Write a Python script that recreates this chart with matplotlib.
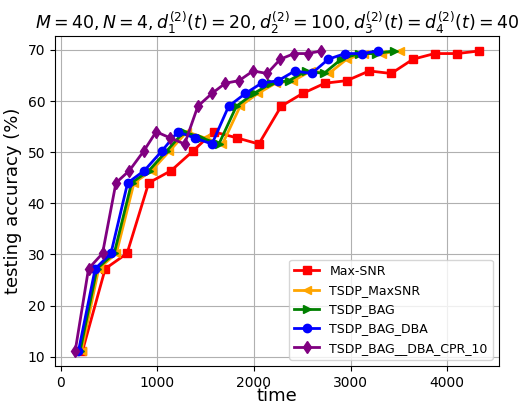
import matplotlib
matplotlib.use("Agg")
import matplotlib.pyplot as plt

acc = [11.1, 27.2, 30.2, 44.0, 46.4, 50.2, 54.0, 52.8, 51.6, 59.0,
       61.5, 63.5, 64.0, 65.9, 65.4, 68.2, 69.3, 69.3, 69.8]

t_maxsnr = [224, 460, 686, 910, 1143, 1367, 1582, 1824, 2050, 2282,
            2504, 2735, 2961, 3193, 3421, 3647, 3871, 4104, 4328]
t_tsdp_maxsnr = [215, 392, 575, 758, 941, 1124, 1306, 1490, 1674, 1857,
                 2041, 2225, 2408, 2592, 2776, 2960, 3143, 3327, 3511]
t_tsdp_bag = [200, 374, 553, 733, 913, 1094, 1275, 1456, 1637, 1818,
              1999, 2180, 2361, 2542, 2723, 2904, 3085, 3266, 3446]
t_tsdp_bag_dba = [183, 356, 519, 692, 865, 1045, 1211, 1385, 1565, 1738,
                  1912, 2078, 2250, 2424, 2597, 2770, 2943, 3117, 3283]
t_tsdp_cpr = [149, 287, 432, 571, 710, 858, 987, 1132, 1282, 1419,
              1565, 1704, 1845, 1991, 2136, 2273, 2416, 2556, 2694]

labels = ["Max-SNR", "TSDP_MaxSNR", "TSDP_BAG", "TSDP_BAG_DBA", "TSDP_BAG__DBA_CPR_10"]

fig = plt.figure(figsize=(5.2, 4.05), dpi=100)
ax = fig.add_axes([0.1058, 0.0963, 0.8538, 0.8148])

series = [
    (t_maxsnr, acc, "red", "s", labels[0]),
    (t_tsdp_maxsnr, acc, "orange", "<", labels[1]),
    (t_tsdp_bag, acc, "green", ">", labels[2]),
    (t_tsdp_bag_dba, acc, "blue", "o", labels[3]),
    (t_tsdp_cpr, acc, "purple", "d", labels[4]),
]
for x, y, c, m, lab in series:
    ax.plot(x, y, color=c, marker=m, markersize=6, linewidth=2, label=lab)

ax.grid(True)
ax.set_xticks([0, 1000, 2000, 3000, 4000])
ax.set_yticks([10, 20, 30, 40, 50, 60, 70])
ax.tick_params(labelsize=10)
ax.set_xlabel("time", fontsize=13, labelpad=-2)
ax.set_ylabel("testing accuracy (%)", fontsize=13)
ax.set_title(r"$M=40,N=4,d_1^{(2)}(t)=20,d_2^{(2)}=100,d_3^{(2)}(t)=d_4^{(2)}(t)=40$",
             fontsize=12.5, pad=5)
ax.legend(loc="lower right", fontsize=9, handlelength=2.0, borderaxespad=0.5)

fig.savefig("out.png", dpi=100)
